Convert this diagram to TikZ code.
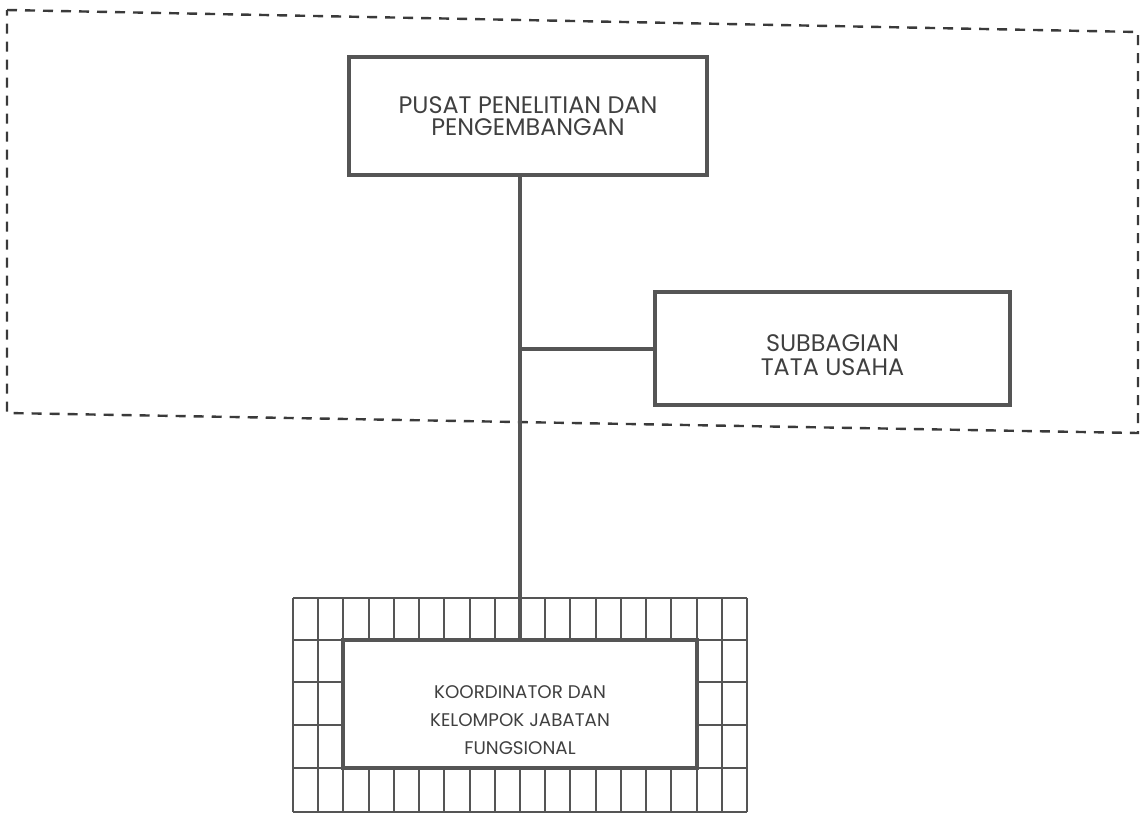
\documentclass[tikz,border=0pt]{standalone}
\usepackage{fontspec}
\setmainfont{Poppins}
\definecolor{inkgray}{HTML}{555555}
\definecolor{textgray}{HTML}{404040}
\definecolor{framegray}{HTML}{3A3A3A}
\begin{document}
\begin{tikzpicture}[
      x=0.025cm, y=-0.025cm,
      unit/.style={draw=inkgray, line width=1mm, align=center, text=textgray, inner sep=0pt},
      conn/.style={draw=inkgray, line width=1mm},
      cell/.style={draw=inkgray, line width=0.5mm},
      frame/.style={draw=framegray, line width=0.6mm, dash pattern=on 2.5mm off 2mm}
    ]
    \useasboundingbox (0,0) rectangle (1140,816);

    % Dashed frame round the top units
    \draw[frame] (7,10) -- (1138,32) -- (1138,433) -- (7,413) -- cycle;

    % Units
    \node[unit, minimum width=8.95cm, minimum height=2.95cm,
      font=\fontsize{17}{16}\selectfont] (pusat) at (528,116)
      {PUSAT PENELITIAN DAN\\PENGEMBANGAN};
    \node[unit, minimum width=8.875cm, minimum height=2.825cm,
      font=\fontsize{17}{16.5}\selectfont] (subbag) at (832.5,348.5)
      {\rule{0pt}{0.75cm}SUBBAGIAN\\TATA USAHA};

    % Grid border of the functional group
    \foreach \i in {0,...,18} {
      \draw[cell] ({293+25.22*\i},598) -- ({293+25.22*\i},640);
      \draw[cell] ({293+25.22*\i},768) -- ({293+25.22*\i},812);
    }
    \foreach \y in {598,640,768,812}
      \draw[cell] (293,\y) -- (747,\y);
    \foreach \x in {293,318.2,721.7,747}
      \draw[cell] (\x,640) -- (\x,768);
    \foreach \y in {682,725} {
      \draw[cell] (293,\y) -- (343.4,\y);
      \draw[cell] (696.5,\y) -- (747,\y);
    }
    \node[unit, fill=white, minimum width=8.85cm, minimum height=3.2cm,
      font=\fontsize{13}{20}\selectfont] (koord) at (520,704)
      {\rule{0pt}{1.12cm}KOORDINATOR DAN\\KELOMPOK JABATAN\\FUNGSIONAL};

    % Connectors
    \coordinate (branch) at (koord.north |- subbag.west);
    \draw[conn] (koord.north |- pusat.south) -- (koord.north);
    \draw[conn] (branch) -- (subbag.west);
  \end{tikzpicture}
\end{document}
